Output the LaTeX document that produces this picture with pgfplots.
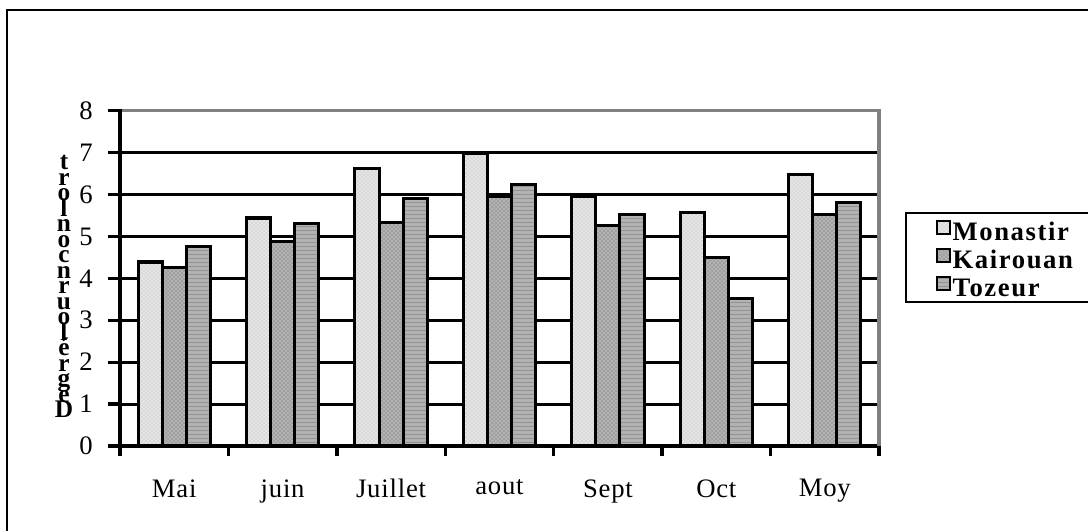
\documentclass[border=0pt]{standalone}
\usepackage{fontspec}
\setmainfont{Liberation Serif}
\usepackage{pgfplots}
\usepackage{pgfplotstable}
\pgfplotsset{compat=1.18}
\usetikzlibrary{patterns}

\definecolor{bordergray}{RGB}{128,128,128}

% duree journaliere par mois
\pgfplotstableread{
x Monastir Kairouan Tozeur
0 4.39 4.25 4.76
1 5.44 4.88 5.30
2 6.63 5.33 5.91
3 6.98 5.95 6.23
4 5.96 5.25 5.52
5 5.57 4.49 3.53
6 6.47 5.52 5.80
}\temps

\begin{document}
\begin{tikzpicture}
\useasboundingbox (0,0) rectangle (816pt,398.25pt);

% cadre exterieur
\draw[line width=1.5pt] (5.6pt,-20pt) -- (5.6pt,390.75pt) -- (840pt,390.75pt);

\begin{axis}[
    at={(90pt,63.75pt)}, anchor=south west,
    scale only axis, width=569.25pt, height=251.5pt,
    xmin=-0.5, xmax=6.5, ymin=0, ymax=8,
    clip=false,
    ybar=0pt, bar width=0.222,
    axis lines=left,
    axis line style={-, line width=3pt, black},
    xtick={0,...,6},
    xticklabels={Mai,juin,Juillet,aout,Sept,Oct,Moy},
    minor xtick={-0.5,0.5,...,6.5},
    major x tick style={draw=none},
    ytick={0,...,8},
    tick align=outside,
    major tick length=9pt, minor tick length=7.5pt,
    tick style={line width=2.5pt, black},
    ymajorgrids,
    grid style={line width=2.2pt, black},
    /pgf/number format/assume math mode=true,
    tick label style={font=\fontsize{20}{22}\selectfont},
    xticklabel style={yshift=-12.5pt, font=\fontsize{20}{22}\selectfont\addfontfeature{LetterSpace=3}},
    yticklabel style={xshift=-8pt},
    legend style={at={(1.075,0.675)}, anchor=north west, draw=none, fill=none,
        inner sep=0pt, row sep=0pt,
        font=\bfseries\fontsize{20}{21}\selectfont\addfontfeature{LetterSpace=6},
        cells={anchor=west},
        nodes={text height=14pt, text depth=4pt, inner sep=1.5pt}},
    legend image code/.code={\draw[#1, line width=1.3pt] (0pt,0pt) rectangle (9.5pt,9.5pt);},
]
\addplot[fill=gray!20, draw=black, line width=2.3pt,
    postaction={pattern=crosshatch dots, pattern color=gray!60}]
    table[x=x, y=Monastir] {\temps};
\addlegendentry{Monastir}
\addplot[fill=gray!58, draw=black, line width=2.3pt,
    postaction={pattern=crosshatch, pattern color=gray!78}]
    table[x=x, y=Kairouan] {\temps};
\addlegendentry{Kairouan}
\addplot[fill=gray!60, draw=black, line width=2.3pt,
    postaction={pattern=horizontal lines, pattern color=gray!85}]
    table[x=x, y=Tozeur] {\temps};
\addlegendentry{Tozeur}

\draw[bordergray, line width=2.5pt] (rel axis cs:0.003,1) -- (rel axis cs:1,1) -- (rel axis cs:1,0);
\end{axis}

% cadre de la legende
\draw[line width=2.2pt] (679.5pt,238.5pt) rectangle (850pt,171.75pt);

% titre de l'axe y (lettres empilees)
\foreach \l [count=\i from 0] in {t,r,o,l,n,o,c,n,r,u,o,l,é,r,g,e,D}
  \node[font=\bfseries\fontsize{19}{20}\selectfont, anchor=base, inner sep=0pt]
    at (48pt,{270.75pt-\i*11.625pt}) {\l};
\end{tikzpicture}
\end{document}
